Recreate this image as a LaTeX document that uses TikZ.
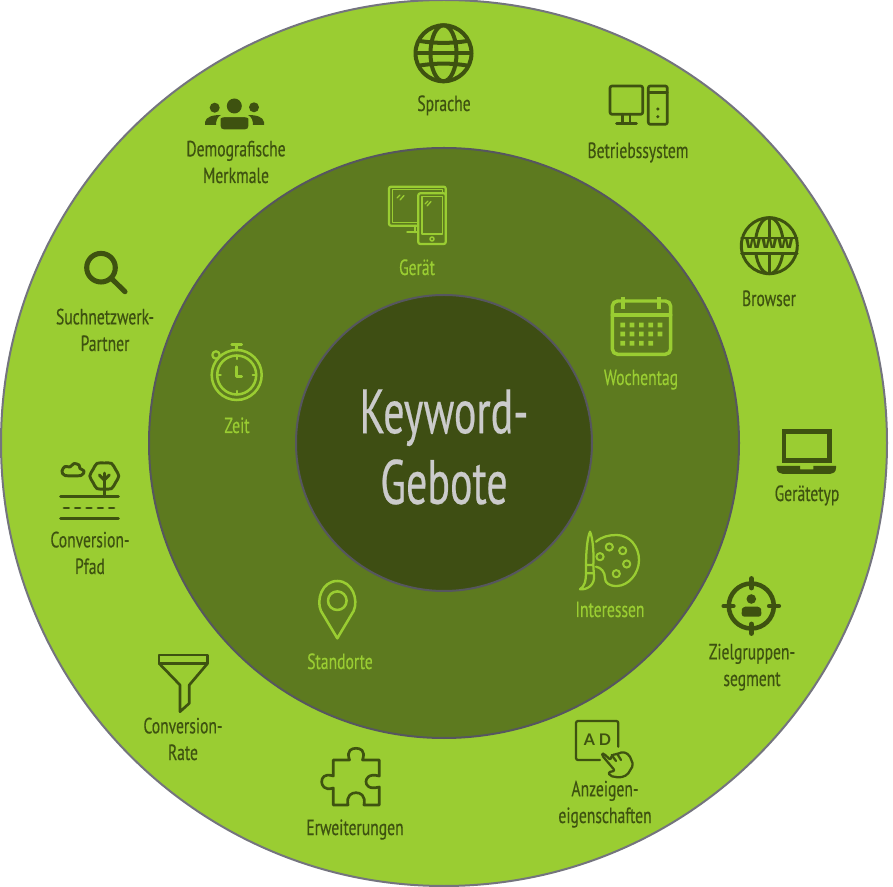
\documentclass[tikz,border=0pt]{standalone}
\usepackage{fontspec}
\setmainfont[FakeStretch=0.71,FakeBold=0.35]{PT Sans}
\newfontfamily\titlefont[FakeStretch=0.67,FakeBold=0.35]{PT Sans}
\newfontfamily\iconfont{Lato}
\newfontfamily\wwwfont[FakeStretch=1.15]{Fira Sans}
\definecolor{ringouter}{HTML}{9ACD32}
\definecolor{ringmiddle}{HTML}{5D7A1F}
\definecolor{ringinner}{HTML}{3E4E13}
\definecolor{ringedge}{HTML}{74747E}
\definecolor{ringedgedark}{HTML}{56565F}
\definecolor{darkink}{HTML}{3E5210}
\definecolor{titleink}{HTML}{CBCBCB}
\tikzset{
  darklabel/.style={text=darkink,align=center,inner sep=0pt,text height=11pt,text depth=3.5pt,font=\fontsize{16.5}{20}\selectfont},
  lightlabel/.style={darklabel,text=ringouter},
  titlelabel/.style={text=titleink,align=center,inner sep=0pt,font=\titlefont\fontsize{47}{53}\selectfont},
  darkicon/.style={draw=darkink,line cap=round,line join=round},
  lighticon/.style={draw=ringouter,line cap=round,line join=round}
}
\begin{document}
\begin{tikzpicture}[x=0.75pt,y=-0.75pt]
\useasboundingbox (0,0) rectangle (893,887);
\filldraw[fill=ringouter,draw=ringedge,line width=1.5pt] (444,443) circle (443);
\filldraw[fill=ringmiddle,draw=ringedgedark,line width=1.5pt] (444,443) circle (295);
\filldraw[fill=ringinner,draw=ringedgedark,line width=1.5pt] (444,443) circle (148);
\node[titlelabel] (title) at (444,447) {Keyword-\\Gebote};

\draw[darkicon,line width=3pt] (443.5,53.3) circle (28);
\draw[darkicon,line width=3pt] (443.5,53.3) ellipse (13 and 28);
\draw[darkicon,line width=3pt] (416,53.3) -- (471,53.3);
\draw[darkicon,line width=3pt] (420,41) .. controls (435,43.5) and (452,43.5) .. (467,41);
\draw[darkicon,line width=3pt] (420,65.5) .. controls (435,63) and (452,63) .. (467,65.5);
\node[darklabel] (sprache) at (444,106) {Sprache};

\fill[darkink] (234.3,106) circle (7.5);
\fill[darkink] (214.7,107.7) circle (5);
\fill[darkink] (254,107.3) circle (5);
\fill[darkink] (205,125) -- (205,122) .. controls (206,117) and (212,115) .. (221,115) .. controls (217,117) and (216,121) .. (216,125) -- cycle;
\fill[darkink] (264,125) -- (264,122) .. controls (263,117) and (257,115) .. (248,115) .. controls (252,117) and (253,121) .. (253,125) -- cycle;
\filldraw[fill=darkink,draw=ringouter,line width=1.2pt,rounded corners=3pt] (219.7,130.3) -- (219.7,122) .. controls (220,116.5) and (226,116.3) .. (229,116.3) -- (240,116.3) .. controls (243,116.3) and (249,116.5) .. (249.3,122) -- (249.3,130.3) -- cycle;
\node[darklabel] (demografie) at (236,178) {Demografische\\Merkmale};

\draw[darkicon,line width=2pt,rounded corners=1.5pt] (610,86) rectangle (642.7,114.3);
\draw[darkicon,line width=2pt] (622.5,114.3) -- (622.5,123.5);
\draw[darkicon,line width=2pt] (630,114.3) -- (630,123.5);
\draw[darkicon,line width=2pt] (616.5,123.5) -- (636.5,123.5);
\draw[darkicon,line width=2pt,rounded corners=1.5pt] (648.3,86) rectangle (667.3,124.3);
\draw[darkicon,line width=2pt] (648.3,92.7) -- (667.3,92.7);
\fill[darkink] (657.8,109) circle (1.7);
\fill[darkink] (657.8,116.7) circle (1.7);
\node[darklabel] (betriebssystem) at (638,153) {Betriebssystem};

\draw[darkicon,line width=2.2pt] (769.3,245.7) circle (28);
\draw[darkicon,line width=2.2pt] (769.3,245.7) ellipse (14 and 28);
\draw[darkicon,line width=2.2pt] (769.3,217.7) -- (769.3,238);
\draw[darkicon,line width=2.2pt] (769.3,253.5) -- (769.3,273.7);
\draw[darkicon,line width=2.2pt] (741.5,238) -- (797.1,238);
\draw[darkicon,line width=2.2pt] (741.5,253.5) -- (797.1,253.5);
\fill[ringouter] (744,239.5) rectangle (794.6,252);
\node[text=darkink,inner sep=0pt,font=\wwwfont\bfseries\fontsize{14}{14}\selectfont] (wwwtext) at (769.3,243.5) {www};
\node[darklabel] (browser) at (769,301) {Browser};

\draw[darkicon,line width=3.4pt,line cap=butt,line join=miter] (784,431.3) rectangle (829.4,460.4);
\fill[darkink] (776.7,466) -- (800,466) -- (800,469.3) -- (813.3,469.3) -- (813.3,466) -- (836,466) -- (836,468) .. controls (836,472) and (833,474) .. (830,474) -- (783,474) .. controls (780,474) and (776.7,472) .. (776.7,468) -- cycle;
\node[darklabel] (geraetetyp) at (807,496) {Gerätetyp};

\draw[darkicon,line width=3.4pt] (751.3,606) circle (22.5);
\draw[darkicon,line width=3.6pt] (751.3,578.5) -- (751.3,588);
\draw[darkicon,line width=3.6pt] (751.3,624) -- (751.3,633.5);
\draw[darkicon,line width=3.6pt] (723.8,606) -- (733.3,606);
\draw[darkicon,line width=3.6pt] (769.3,606) -- (778.8,606);
\fill[darkink] (751.3,599) circle (4.8);
\fill[darkink,rounded corners=2pt] (741.7,616.7) -- (741.7,611.5) .. controls (742,608) and (745,606.7) .. (748,606.7) -- (755,606.7) .. controls (758,606.7) and (761,608) .. (761.3,611.5) -- (761.3,616.7) -- cycle;
\node[darklabel] (zielgruppe) at (752,681) {Zielgruppen-\\segment};

\draw[darkicon,line width=1.7pt,rounded corners=1.5pt] (618.3,746.7) -- (618.3,721) -- (576,721) -- (576,760) -- (600,760);
\node[text=darkink,inner sep=0pt,font=\iconfont\bfseries\fontsize{12}{12}\selectfont] (adtext) at (597.5,740) {A D};
\draw[darkicon,line width=1.7pt,rounded corners=1.5pt,fill=ringouter] (601.7,755) -- (603.3,753.3) -- (610.7,760) -- (611.7,755) -- (617.3,754) -- (623.3,751.7) -- (629.3,755) -- (633.3,765) -- (627.3,775) -- (620,777.7) -- (610,776) -- (608.3,772.3) -- (615,770.7) -- cycle;
\draw[darkicon,line width=1.7pt] (611.7,755) -- (616,761);
\draw[darkicon,line width=1.7pt] (617.3,754) -- (621,760);
\node[darklabel] (anzeige) at (605,818) {Anzeigen-\\eigenschaften};

\draw[darkicon,line width=2pt] (333.3,760) -- (349.5,760) .. controls (346,750) and (352,748.3) .. (356,748.3) .. controls (360,748.3) and (366,750) .. (362.5,760) -- (379.3,760) -- (379.3,776) .. controls (368,773) and (366,779) .. (366,781.7) .. controls (366,784.5) and (368,790) .. (379.3,787) -- (379.3,805) -- (364,805) .. controls (366,795) and (360,792.7) .. (356,792.7) .. controls (352,792.7) and (346,795) .. (348,805) -- (333.3,805) -- (333.3,788) .. controls (324,791) and (321.7,785) .. (321.7,781.7) .. controls (321.7,778) and (324,773) .. (333.3,776) -- cycle;
\node[darklabel] (erweiterung) at (355,830) {Erweiterungen};

\draw[darkicon,line width=2pt] (159,655) -- (207.7,655) -- (207.7,663.3) -- (159,663.3) -- cycle;
\draw[darkicon,line width=2pt] (159,663.3) -- (180,685) -- (180,711.7) -- (189.3,703.3) -- (189.3,685) -- (207.7,663.3);
\node[darklabel] (conversionrate) at (183,755) {Conversion-\\Rate};

\draw[darkicon,line width=2.2pt] (60.7,496.7) -- (118.3,496.7);
\draw[darkicon,line width=2.2pt,dash pattern=on 3.5pt off 5pt] (64,508) -- (116,508);
\draw[darkicon,line width=2.2pt] (60.7,518.7) -- (118.3,518.7);
\draw[darkicon,line width=2.2pt] plot[smooth cycle] coordinates{(62,471)(65,466.5)(70,467)(74,463.5)(79,465)(80,468.5)(84,471)(81,475.5)(65,475.5)};
\draw[darkicon,line width=2.2pt] plot[smooth cycle] coordinates{(118.8,476)(115.6,469.5)(111.5,463.4)(104.3,463)(97,463.4)(93,469.5)(89.8,476)(93,482.5)(97,488.6)(104.3,489)(111.5,488.6)(115.6,482.5)};
\draw[darkicon,line width=2.2pt] (104.3,473) -- (104.3,496.7);
\draw[darkicon,line width=2.2pt] (99.3,475) -- (104.3,480) -- (109.3,475);
\node[darklabel] (conversionpfad) at (90,569) {Conversion-\\Pfad};

\draw[darkicon,line width=3.8pt] (101,267.7) circle (14.3);
\draw[darkicon,line width=3.8pt] (112,279) -- (125,291.7);
\node[darklabel] (suchnetzwerk) at (105,346) {Suchnetzwerk-\\Partner};

\draw[lighticon,line width=1.7pt,rounded corners=1.5pt] (389,186.7) rectangle (445.7,225.7);
\draw[lighticon,line width=1.2pt] (392.5,189.5) rectangle (442.5,222.5);
\draw[lighticon,line width=1.7pt] (415,225.7) -- (415,232.3);
\draw[lighticon,line width=1.7pt] (407.3,232.3) -- (418.3,232.3);
\draw[lighticon,line width=1.7pt,fill=ringmiddle,rounded corners=1.5pt] (418.3,193.3) rectangle (445.7,244);
\draw[lighticon,line width=1.2pt] (421.7,196.7) rectangle (442.3,234.3);
\draw[lighticon,line width=1.2pt] (432,239) circle (2);
\draw[lighticon,line width=1pt] (397,198) -- (400,195);
\draw[lighticon,line width=1pt] (400,200) -- (404,195.5);
\draw[lighticon,line width=1pt] (425,204) -- (428,201);
\draw[lighticon,line width=1pt] (427,206) -- (431,201.5);
\node[lightlabel] (geraet) at (417,270) {Gerät};

\draw[lighticon,line width=2.6pt,rounded corners=4pt] (612.3,301) rectangle (670.7,354.3);
\draw[lighticon,line width=2.6pt] (612.3,315) -- (670.7,315);
\draw[lighticon,line width=3pt,line cap=butt] (623.3,296.7) -- (623.3,309.3);
\draw[lighticon,line width=3pt,line cap=butt] (659.3,296.7) -- (659.3,309.3);
\fill[ringouter] (620.4,322.7) rectangle +(4.6,4.6) (629.7,322.7) rectangle +(4.6,4.6) (639,322.7) rectangle +(4.6,4.6) (648.4,322.7) rectangle +(4.6,4.6) (657.7,322.7) rectangle +(4.6,4.6);
\fill[ringouter] (620.4,331.7) rectangle +(4.6,4.6) (629.7,331.7) rectangle +(4.6,4.6) (639,331.7) rectangle +(4.6,4.6) (648.4,331.7) rectangle +(4.6,4.6) (657.7,331.7) rectangle +(4.6,4.6);
\fill[ringouter] (620.4,341) rectangle +(4.6,4.6) (629.7,341) rectangle +(4.6,4.6) (639,341) rectangle +(4.6,4.6) (648.4,341) rectangle +(4.6,4.6);
\node[lightlabel] (wochentag) at (641,380) {Wochentag};

\draw[lighticon,line width=1.7pt] (596,541.7) .. controls (602,536.5) and (609,535) .. (616.7,535) .. controls (630,535) and (639,547) .. (639,560) .. controls (639,574) and (628,586) .. (616.7,586) .. controls (609,586) and (605,583) .. (605,578) .. controls (605,572) and (601,567.5) .. (596,566.7);
\draw[lighticon,line width=1.5pt] (609.3,547) circle (3.6);
\draw[lighticon,line width=1.5pt] (622.7,550.7) circle (3.6);
\draw[lighticon,line width=1.5pt] (626.7,564) circle (3.6);
\draw[lighticon,line width=1.5pt] (616.3,573.7) circle (3.6);
\draw[lighticon,line width=1.5pt] (600,556.7) circle (3.6);
\draw[lighticon,line width=1.7pt] (590,531.7) .. controls (593,538) and (594,555) .. (593.3,565) -- (586,565) .. controls (586,555) and (587,538) .. (590,531.7);
\draw[lighticon,line width=1.7pt] (586,565) -- (586,573.3) -- (593.8,573.3) -- (593.3,565);
\draw[lighticon,line width=1.7pt] (586,573.3) .. controls (586,580) and (585,586) .. (580,589.3) .. controls (586,590) and (596,586) .. (593.8,573.3);
\node[lightlabel] (interessen) at (610,612) {Interessen};

\draw[lighticon,line width=1.9pt] (337.3,638.3) -- (321,611) .. controls (316,600) and (322,581) .. (337.3,581) .. controls (352.6,581) and (358.6,600) .. (353.6,611) -- cycle;
\draw[lighticon,line width=1.9pt] (337.3,600.7) circle (9.3);
\node[lightlabel] (standorte) at (340,664) {Standorte};

\draw[lighticon,line width=1.9pt] (236.7,375) circle (25);
\draw[lighticon,line width=1.9pt] (236.7,375) circle (19.5);
\draw[lighticon,line width=1.7pt] (236.7,355.5) -- (236.7,359);
\draw[lighticon,line width=1.7pt] (236.7,391) -- (236.7,394.5);
\draw[lighticon,line width=1.7pt] (217.2,375) -- (220.7,375);
\draw[lighticon,line width=1.7pt] (252.7,375) -- (256.2,375);
\draw[lighticon,line width=1.9pt] (236.7,366.7) -- (236.7,376.7) -- (241.7,376.7);
\draw[lighticon,line width=1.9pt] (231.7,344.5) -- (241.7,344.5);
\draw[lighticon,line width=1.9pt] (236.7,344.5) -- (236.7,350);
\draw[lighticon,line width=1.7pt] (216,355) circle (3.7);
\node[lightlabel] (zeit) at (237,428) {Zeit};
\end{tikzpicture}
\end{document}
